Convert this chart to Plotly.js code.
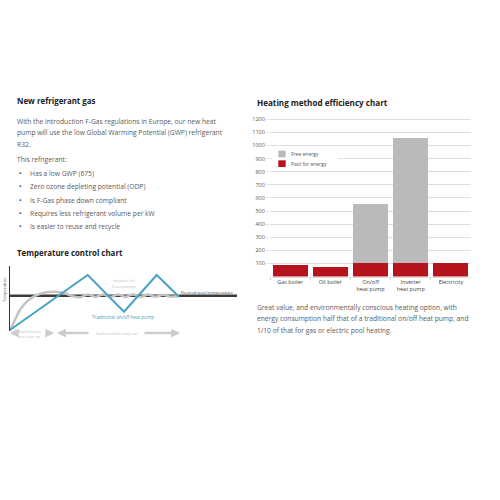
<!DOCTYPE html>
<html>
<head>
<meta charset="utf-8">
<script src="https://cdn.plot.ly/plotly-3.0.1.min.js"></script>
<style>html,body{margin:0;padding:0;background:#fff;}#chart{width:500px;height:500px;}</style>
</head>
<body>
<div id="chart"></div>
<script>
// ---- Heating method efficiency chart data ----
const categories = ["Gas boiler", "Oil boiler", "On/off<br>heat pump", "Inverter<br>heat pump", "Electricity"];
const paidEnergy = [85, 75, 100, 100, 100];
const freeEnergy = [0, 0, 450, 960, 0];
const seriesNames = ["Paid for energy", "Free energy"];
const yTicks = [100, 200, 300, 400, 500, 600, 700, 800, 900, 1000, 1100, 1200];

// ---- Temperature control chart data (time, temperature; arbitrary units) ----
const desiredTime = [0, 227];
const desiredTemp = [34.3, 34.3];
const onOffTime = [0, 77.7, 114, 146.7, 169];
const onOffTemp = [0, 55, 18.3, 55, 33.3];
const inverterTime = [0, 3.3, 10, 16.7, 26.7, 36.7, 45, 55, 61.7, 70, 78, 85.5, 93, 100.5, 108, 115.5, 123, 130.5, 138, 145.5, 153, 160.5, 169];
const inverterTemp = [0, 6.7, 20, 28.3, 35, 37.7, 38.3, 36.7, 34, 32.7, 35.6, 33, 35.6, 33, 35.5, 33.1, 35.5, 33.1, 35.4, 33.2, 35.3, 33.3, 34.3];

// ---- Text content ----
const introLines = [
  "With the introduction F-Gas regulations in Europe, our new heat",
  "pump will use the low Global Warming Potential (GWP) refrigerant",
  "R32."
];
const bullets = [
  "Has a low GWP (675)",
  "Zero ozone depleting potential (ODP)",
  "Is F-Gas phase down compliant",
  "Requires less refrigerant volume per kW",
  "Is easier to reuse and recycle"
];
const captionLines = [
  "Great value, and environmentally conscious heating option, with",
  "energy consumption half that of a traditional on/off heat pump, and",
  "1/10 of that for gas or electric pool heating."
];

const FONT = "Open Sans, Noto Sans, sans-serif";
const RED = "#b5141d";
const GREY = "#bababa";
const BLUE = "#4aa2c2";

const px = v => v / 500;
const py = v => 1 - v / 500;

const traces = [
  {type: "bar", name: seriesNames[0], x: categories, y: paidEnergy, marker: {color: RED}, xaxis: "x", yaxis: "y", hoverinfo: "skip", showlegend: false},
  {type: "bar", name: seriesNames[1], x: categories, y: freeEnergy, marker: {color: GREY}, xaxis: "x", yaxis: "y", hoverinfo: "skip", showlegend: false},
  {type: "scatter", mode: "lines", x: desiredTime, y: desiredTemp, line: {color: "#3a3a3a", width: 2.5}, xaxis: "x2", yaxis: "y2", showlegend: false},
  {type: "scatter", mode: "lines", x: inverterTime, y: inverterTemp, line: {color: "#c4c4c4", width: 2.5, shape: "spline", smoothing: 1}, xaxis: "x2", yaxis: "y2", showlegend: false},
  {type: "scatter", mode: "lines", x: onOffTime, y: onOffTemp, line: {color: BLUE, width: 2}, xaxis: "x2", yaxis: "y2", showlegend: false}
];

const ann = [];
function txt(text, x, y, size, color, opts) {
  ann.push(Object.assign({text: text, xref: "paper", yref: "paper", x: px(x), y: py(y), xanchor: "left", yanchor: "middle", showarrow: false, font: {family: FONT, size: size, color: color}}, opts || {}));
}
txt("<b>New refrigerant gas</b>", 15, 101, 7.9, "#222");
introLines.forEach((l, i) => txt(l, 15, 121 + i * 11.5, 6.7, "#5a5a5a"));
txt("This refrigerant:", 15, 159.5, 6.7, "#5a5a5a");
bullets.forEach((b, i) => {
  txt("•", 17, 173 + i * 13.5, 6.7, "#333");
  txt(b, 28, 173 + i * 13.5, 6.7, "#5a5a5a");
});
txt("<b>Temperature control chart</b>", 15, 253, 7.9, "#222");
txt("<b>Heating method efficiency chart</b>", 255, 103, 8.1, "#222");
captionLines.forEach((l, i) => txt(l, 255, 307 + i * 11.5, 6.7, "#5a5a5a"));

// legend (drawn manually so the entries sit close together)
txt(seriesNames[1], 289, 154.3, 5, "#555");
txt(seriesNames[0], 289, 163.7, 5, "#555");

// temperature chart labels
txt("Temperature", 4, 290, 4, "#555", {textangle: -90, xanchor: "center"});
txt("Desired pool temperature", 179, 292, 4.3, "#333");
txt("Inverter for<br>heat pumps", 124, 283, 4.3, "#c0c0c0", {xanchor: "center"});
txt("Traditional on/off heat pump", 90, 317, 4.6, BLUE);
txt("Rapid heat for<br>pool start up", 30, 333.5, 3.5, "#c0c0c0", {xanchor: "center"});
txt("Stable mode for daily use", 116, 333.5, 3.5, "#c0c0c0", {xanchor: "center"});

function arrow(xTip, y, dx) {
  ann.push({xref: "paper", yref: "paper", x: px(xTip), y: py(y), ax: dx, ay: 0, text: "", showarrow: true,
    arrowhead: 2, arrowsize: 0.7, arrowwidth: 2.5, arrowcolor: "#cccccc"});
}
arrow(10, 333, 6);
arrow(54, 333, -7);
arrow(57, 333, 33);
arrow(180, 333, -37);

const shapes = [
  {type: "rect", xref: "paper", yref: "paper", x0: px(272), x1: px(338), y0: py(168.5), y1: py(149), fillcolor: "#fff", line: {width: 0}, layer: "above"},
  {type: "rect", xref: "paper", yref: "paper", x0: px(278.3), x1: px(285.7), y0: py(157.3), y1: py(150.7), fillcolor: GREY, line: {width: 0}, layer: "above"},
  {type: "rect", xref: "paper", yref: "paper", x0: px(278.3), x1: px(285.7), y0: py(167), y1: py(160.3), fillcolor: RED, line: {width: 0}, layer: "above"}
];

const layout = {
  width: 500, height: 500,
  margin: {l: 0, r: 0, t: 0, b: 0},
  paper_bgcolor: "#fff", plot_bgcolor: "rgba(0,0,0,0)",
  barmode: "stack", bargap: 0.13,
  showlegend: false,
  xaxis: {domain: [px(270), px(471)], anchor: "y", showgrid: false, showline: true, linecolor: "#e0e0e0", linewidth: 1,
    ticks: "outside", tickson: "boundaries", ticklen: 2, tickcolor: "#ccc",
    tickfont: {family: FONT, size: 5.5, color: "#444"}, fixedrange: true},
  yaxis: {domain: [py(276.5), py(276.5) + 158.5 / 500], anchor: "x", range: [0, 1210], tickvals: yTicks,
    showgrid: true, gridcolor: "#dedede", gridwidth: 1, zeroline: false, showline: false,
    ticks: "outside", ticklen: 3, tickcolor: "#dedede",
    tickfont: {family: FONT, size: 5.5, color: "#555"}, fixedrange: true},
  xaxis2: {domain: [px(10), px(237)], anchor: "y2", range: [0, 227], visible: false, fixedrange: true},
  yaxis2: {domain: [py(331), py(266)], anchor: "x2", range: [-1, 64], showgrid: false, zeroline: false,
    showticklabels: false, ticks: "", showline: true, linecolor: "#333", linewidth: 1.5, fixedrange: true},
  shapes: shapes,
  annotations: ann
};

Plotly.newPlot("chart", traces, layout, {displayModeBar: false, staticPlot: true});
</script>
</body>
</html>
